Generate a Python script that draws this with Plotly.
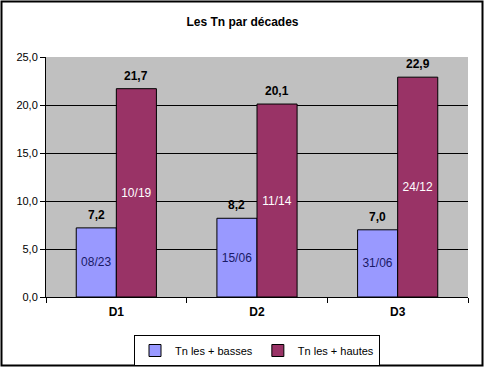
import plotly.graph_objects as go

categories = ["D1", "D2", "D3"]
low_values = [7.2, 8.2, 7.0]
high_values = [21.7, 20.1, 22.9]
low_dates = ["08/23", "15/06", "31/06"]
high_dates = ["10/19", "11/14", "24/12"]
low_name = "Tn les + basses"
high_name = "Tn les + hautes"
y_ticks = [0, 5, 10, 15, 20, 25]

W, H = 485, 368
ml, mr, mt, mb = 46, 17, 57, 71
FONT = "Liberation Sans, Arial, sans-serif"

fig = go.Figure()
fig.add_trace(go.Bar(
    x=categories, y=low_values, name=low_name, text=low_dates,
    textposition="inside", insidetextanchor="middle",
    textfont=dict(color="#1a1a66", size=12, family=FONT),
    marker=dict(color="#9999FF", line=dict(color="black", width=1)),
))
fig.add_trace(go.Bar(
    x=categories, y=high_values, name=high_name, text=high_dates,
    textposition="inside", insidetextanchor="middle",
    textfont=dict(color="white", size=12, family=FONT),
    marker=dict(color="#993366", line=dict(color="black", width=1)),
))

pw = W - ml - mr
ph = H - mt - mb
bar_px = pw / 3 * (1 - 0.43) / 2
annotations = []
for i, c in enumerate(categories):
    for v, sh in ((low_values[i], -bar_px / 2), (high_values[i], bar_px / 2)):
        annotations.append(dict(
            x=c, y=v, xref="x", yref="y", text=f"{v:.1f}".replace(".", ","),
            showarrow=False, xshift=sh, yshift=13,
            font=dict(size=12, family=FONT, color="black", weight="bold"),
        ))

fig.update_layout(
    width=W, height=H,
    margin=dict(l=ml, r=mr, t=mt, b=mb, pad=0, autoexpand=False),
    paper_bgcolor="white", plot_bgcolor="#C0C0C0",
    separators=", ",
    barmode="group", bargap=0.43, bargroupgap=0,
    title=dict(text="<b>Les Tn par décades</b>", x=0.5, xanchor="center",
               y=1 - 22 / H, yanchor="middle",
               font=dict(size=12, family=FONT, color="black")),
    font=dict(family=FONT, size=11, color="black"),
    xaxis=dict(showline=True, linecolor="black", linewidth=1,
               ticks="outside", tickson="boundaries", ticklen=5, tickcolor="black",
               ticklabelstandoff=4,
               tickfont=dict(size=12, weight="bold"), showgrid=False),
    yaxis=dict(range=[0, 25], tickvals=y_ticks, tickformat=".1f",
               showline=True, linecolor="black", linewidth=1,
               ticks="outside", ticklen=5, tickcolor="black",
               showgrid=True, gridcolor="black", gridwidth=1,
               zeroline=False, tickfont=dict(size=11)),
    legend=dict(orientation="h", x=0.5, xanchor="center",
                y=-(335 - (H - mb)) / ph, yanchor="top",
                bordercolor="black", borderwidth=1, bgcolor="white",
                font=dict(size=11), itemwidth=30, tracegroupgap=0),
    annotations=annotations,
    shapes=[dict(type="rect", xref="paper", yref="paper",
                 x0=-(ml - 1.5) / pw, x1=1 + (mr - 2.5) / pw,
                 y0=-(mb - 2.5) / ph, y1=1 + (mt - 1.5) / ph,
                 line=dict(color="black", width=2), layer="below")],
)

fig.write_html("out.html", config={"displayModeBar": False},
               post_script="document.body.style.margin='0';document.body.style.overflow='hidden';")
